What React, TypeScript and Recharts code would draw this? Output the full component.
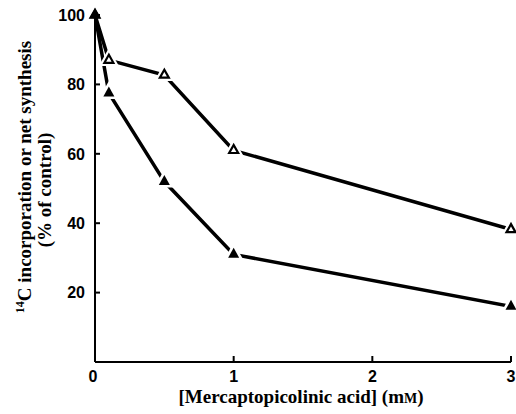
import React from 'react';
import { LineChart, Line, XAxis, YAxis } from 'recharts';

// [mercaptopicolinic acid] in mM
const concentrations = [0, 0.1, 0.5, 1, 3];
// open triangles
const openSeries = [100, 87, 82.7, 61, 38.2];
// filled triangles
const filledSeries = [100, 77.5, 52, 31, 16];
const xTicks = [0, 1, 2, 3];
const yTicks = [20, 40, 60, 80, 100];

const data = concentrations.map((x, i) => ({
  x,
  open: openSeries[i],
  filled: filledSeries[i],
}));

const tickFont = { fontFamily: "'Liberation Sans', Arial, sans-serif", fontSize: 16, fontWeight: 700 };
const titleFont = { fontFamily: "'Liberation Serif', 'Times New Roman', serif", fontSize: 19, fontWeight: 700 };

const tri = (cx: number, cy: number, w: number, h: number) =>
  `${cx},${cy - (h * 2) / 3} ${cx - w / 2},${cy + h / 3} ${cx + w / 2},${cy + h / 3}`;

const TriangleDot = (props: any) => {
  const { cx, cy, index, filled } = props;
  if (cx == null || cy == null) return null;
  return (
    <g key={`dot-${index}`}>
      {index > 0 && <polygon points={tri(cx, cy, 20, 18)} fill="#fff" />}
      {filled ? (
        <polygon points={tri(cx, cy, 11, 10)} fill="#000" />
      ) : (
        <polygon points={tri(cx, cy, 9, 8)} fill="#fff" stroke="#000" strokeWidth={2.2} strokeLinejoin="miter" />
      )}
    </g>
  );
};

const YTick = (props: any) => {
  const { x, y, payload } = props;
  const axisX = x + 10;
  return (
    <g>
      <line x1={axisX} x2={axisX + 5} y1={y} y2={y} stroke="#000" strokeWidth={2} />
      <text x={x} y={y} dy="0.36em" textAnchor="end" fill="#000" style={tickFont}>
        {payload.value}
      </text>
    </g>
  );
};

const XTick = (props: any) => {
  const { x, y, payload } = props;
  const axisY = y - 14;
  return (
    <g>
      {payload.value !== 0 && (
        <line x1={x} x2={x} y1={axisY} y2={axisY - 6} stroke="#000" strokeWidth={2} />
      )}
      <text x={payload.value === 0 ? x - 2 : x} y={y} dy="0.36em" textAnchor="middle" fill="#000" style={tickFont}>
        {payload.value}
      </text>
    </g>
  );
};

const YTitle = () => (
  <g>
    <text transform="translate(31, 177) rotate(-90)" x={0} y={0} textAnchor="middle" fill="#000" style={titleFont}>
      <tspan fontSize={12} dy={-7}>14</tspan>
      <tspan dy={7}>C incorporation or net synthesis</tspan>
    </text>
    <text transform="translate(51, 190) rotate(-90)" x={0} y={0} textAnchor="middle" fill="#000" style={titleFont}>
      (% of control)
    </text>
  </g>
);

const XTitle = () => (
  <text x={301} y={403} textAnchor="middle" fill="#000" style={titleFont}>
    [Mercaptopicolinic acid] (m<tspan fontSize={14}>M</tspan>)
  </text>
);

export default function App() {
  return (
    <div style={{ position: 'absolute', left: 0, top: 0, width: 516, height: 414, background: '#fff' }}>
      <LineChart width={516} height={414} data={data} margin={{ top: 15, right: 5, left: 0, bottom: 0 }}>
        <XAxis
          dataKey="x"
          type="number"
          domain={[0, 3]}
          ticks={xTicks}
          height={52}
          axisLine={{ stroke: '#000', strokeWidth: 2 }}
          tickLine={false}
          tickSize={0}
          tickMargin={14}
          tick={<XTick />}
          label={{ content: () => <XTitle /> }}
        />
        <YAxis
          type="number"
          domain={[0, 100]}
          ticks={yTicks}
          width={95}
          axisLine={{ stroke: '#000', strokeWidth: 2 }}
          tickLine={false}
          tickSize={0}
          tickMargin={10}
          tick={<YTick />}
          label={{ content: () => <YTitle /> }}
        />
        <Line
          type="linear"
          dataKey="open"
          stroke="#000"
          strokeWidth={3.5}
          dot={(p: any) => <TriangleDot {...p} filled={false} />}
          activeDot={false}
          isAnimationActive={false}
        />
        <Line
          type="linear"
          dataKey="filled"
          stroke="#000"
          strokeWidth={3.5}
          dot={(p: any) => <TriangleDot {...p} filled />}
          activeDot={false}
          isAnimationActive={false}
        />
      </LineChart>
    </div>
  );
}
